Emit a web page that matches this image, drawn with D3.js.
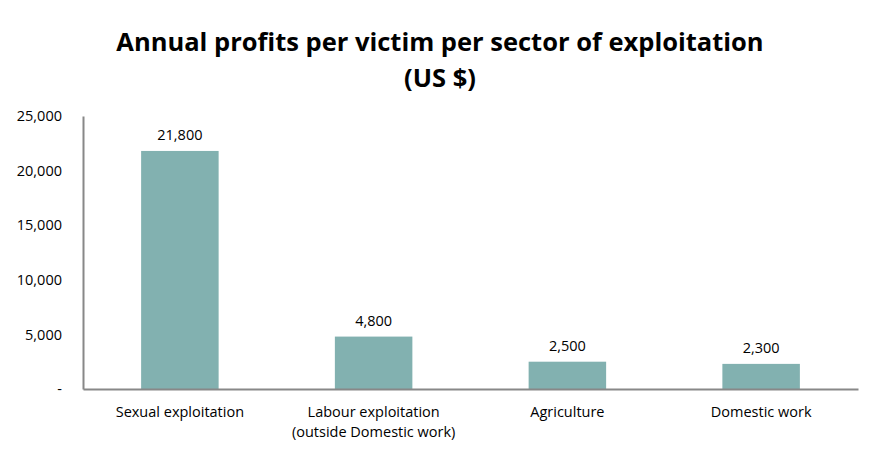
<!DOCTYPE html>
<html>
<head>
<meta charset="utf-8">
<script src="https://cdn.jsdelivr.net/npm/d3@7"></script>
<style>
  body { margin: 0; background: #fff; }
  text { font-family: "Open Sans", sans-serif; fill: #000; }
</style>
</head>
<body>
<script>
const width = 883;
const height = 468;

const sectors = ["Sexual exploitation", "Labour exploitation|(outside Domestic work)", "Agriculture", "Domestic work"];
const profits = [21800, 4800, 2500, 2300];
const yTicks = [0, 5000, 10000, 15000, 20000, 25000];

const margin = {top: 116, right: 25, bottom: 79, left: 83};
const fontSize = "14.5px";

const svg = d3.select("body").append("svg")
    .attr("width", width)
    .attr("height", height);

const x = d3.scaleBand()
    .domain(sectors)
    .range([margin.left, width - margin.right])
    .paddingInner(0.6)
    .paddingOuter(0.3);

const y = d3.scaleLinear()
    .domain([0, 25000])
    .range([height - margin.bottom, margin.top]);

const fmt = d => d === 0 ? "-" : d3.format(",")(d);

// title
const title = svg.append("text")
    .attr("x", 440)
    .attr("text-anchor", "middle")
    .style("font-weight", "bold")
    .style("font-size", "25.5px");
title.append("tspan").attr("x", 440).attr("y", 51).text("Annual profits per victim per sector of exploitation");
title.append("tspan").attr("x", 440).attr("y", 87).text("(US $)");

// bars
svg.append("g")
    .selectAll("rect")
    .data(sectors)
    .enter()
    .append("rect")
    .attr("x", d => x(d))
    .attr("width", x.bandwidth())
    .attr("y", (d, i) => y(profits[i]))
    .attr("height", (d, i) => y(0) - y(profits[i]))
    .style("fill", "#82b1b0");

// value labels
svg.append("g")
    .selectAll("text")
    .data(sectors)
    .enter()
    .append("text")
    .attr("x", d => x(d) + x.bandwidth() / 2)
    .attr("y", (d, i) => y(profits[i]) - 11)
    .attr("text-anchor", "middle")
    .style("font-size", fontSize)
    .text((d, i) => d3.format(",")(profits[i]));

// y axis
const yAxis = svg.append("g")
    .attr("transform", `translate(${margin.left},0)`)
    .call(d3.axisLeft(y).tickValues(yTicks).tickFormat(fmt).tickSize(0).tickPadding(21));
yAxis.select(".domain").attr("stroke", "#888").attr("stroke-width", 2);
yAxis.selectAll("text").style("font-size", fontSize).style("font-family", "'Open Sans', sans-serif");

// x axis
const xAxis = svg.append("g")
    .attr("transform", `translate(0,${y(0)})`)
    .call(d3.axisBottom(x).tickSize(0).tickPadding(0).tickFormat(""));
xAxis.select(".domain").attr("stroke", "#888").attr("stroke-width", 2);

xAxis.selectAll(".tick text").each(function(d) {
    const t = d3.select(this).text(null)
        .style("font-size", fontSize)
        .style("font-family", "'Open Sans', sans-serif")
        .attr("y", 0).attr("dy", null);
    d.split("|").forEach((line, i) => {
        t.append("tspan").attr("x", 0).attr("y", 28 + i * 20).text(line);
    });
});
</script>
</body>
</html>
